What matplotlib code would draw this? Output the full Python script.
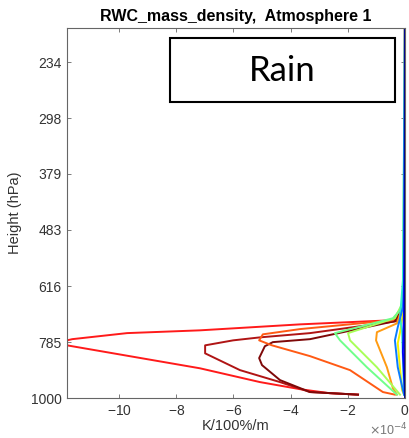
import numpy as np
import matplotlib
matplotlib.use("Agg")
import matplotlib.pyplot as plt
from matplotlib.patches import Rectangle
from matplotlib.ticker import FixedLocator, NullLocator, ScalarFormatter

plt.rcParams['font.family'] = ['Liberation Sans', 'DejaVu Sans']
plt.rcParams['axes.unicode_minus'] = False

## profiles: x in 1e-4 K/100%/m, p in hPa

p_red = [200, 655, 702, 714, 727, 746, 755, 775, 779, 792, 796, 879, 933, 962, 979, 985]
x_red = [0, 0, -0.17, -0.42, -3.67, -7.17, -9.72, -11.64, -11.82, -11.82, -11.82, -7.17, -5.07, -3.67, -2.62, -1.64]

p_darkred = [200, 660, 717, 755, 769, 779, 796, 824, 886, 933, 974, 985]
x_darkred = [0, 0, -0.28, -3.32, -5.07, -6.01, -6.99, -6.99, -5.77, -4.37, -3.32, -1.64]

p_maroon = [200, 660, 717, 775, 785, 799, 841, 867, 925, 974, 985]
x_maroon = [0, 0, -0.35, -3.32, -4.62, -4.90, -5.10, -5.00, -4.37, -3.32, -1.64]

p_orangered = [200, 660, 714, 742, 759, 779, 796, 834, 886, 974, 985]
x_orangered = [0, 0, -0.42, -3.67, -4.97, -5.10, -4.65, -3.32, -1.92, -0.77, -0.35]

p_orange = [200, 655, 724, 752, 779, 875, 958, 985]
x_orange = [0, 0, -0.28, -0.98, -1.01, -0.63, -0.42, -0.28]

p_yellow = [200, 655, 752, 789, 966, 985]
x_yellow = [0, 0, -0.17, -0.25, -0.10, -0.03]

p_ygreen = [200, 660, 708, 755, 779, 875, 985]
x_ygreen = [0, -0.07, -0.35, -1.99, -1.92, -0.98, -0.17]

p_lgreen = [200, 640, 684, 708, 755, 779, 875, 985]
x_lgreen = [0, 0, -0.17, -0.42, -2.45, -2.27, -1.33, -0.28]

p_cyan = [200, 601, 705, 750, 985]
x_cyan = [0, -0.07, -0.17, -0.10, -0.03]

p_lblue = [200, 559, 675, 736, 779, 875, 966, 985]
x_lblue = [0, 0, -0.07, -0.25, -0.35, -0.25, -0.07, -0.03]

p_blue = [200, 680, 820, 985]
x_blue = [0, -0.03, -0.07, 0]

p_navy = [200, 1000]
x_navy = [0, 0]

yticks = [234, 298, 379, 483, 616, 785, 1000]
xticks = [-10, -8, -6, -4, -2, 0]

curves = [
    (x_red, p_red, '#ff1a1a'),
    (x_darkred, p_darkred, '#b01414'),
    (x_maroon, p_maroon, '#7e0808'),
    (x_orangered, p_orangered, '#ff5a14'),
    (x_orange, p_orange, '#ff9b12'),
    (x_yellow, p_yellow, '#f2f200'),
    (x_ygreen, p_ygreen, '#a8ff58'),
    (x_lgreen, p_lgreen, '#70ff8a'),
    (x_cyan, p_cyan, '#30f0c8'),
    (x_lblue, p_lblue, '#0a7dff'),
    (x_blue, p_blue, '#0000ff'),
    (x_navy, p_navy, '#00008f'),
]

fig = plt.figure(figsize=(4.09, 4.38), dpi=100)
ax = fig.add_axes([0.164, 0.091, 0.826, 0.845])

for xs, ps, c in curves:
    ax.plot(np.array(xs) * 1e-4, ps, color=c, lw=1.4)

ax.set_yscale('log')
ax.set_ylim(1000, 202)
ax.set_xlim(-11.82e-4, 0)
ax.yaxis.set_major_locator(FixedLocator(yticks))
ax.yaxis.set_minor_locator(NullLocator())
ax.set_yticklabels([str(t) for t in yticks])
ax.set_xticks(np.array(xticks) * 1e-4)
fmt = ScalarFormatter(useMathText=True)
fmt.set_powerlimits((-4, -4))
ax.xaxis.set_major_formatter(fmt)
ax.xaxis.get_offset_text().set_visible(False)

for s in ax.spines.values():
    s.set_color('#666666')
    s.set_linewidth(0.8)
ax.tick_params(direction='in', top=True, right=True, length=3, width=0.6,
               colors='#666666', labelcolor='#333333', labelsize=10, pad=4)

ax.set_title('RWC_mass_density,  Atmosphere 1', fontsize=11.5, fontweight='bold', pad=5)
ax.set_xlabel('K/100%/m', fontsize=10.5, color='#333333', labelpad=1)
ax.set_ylabel('Height (hPa)', fontsize=10.5, color='#333333', labelpad=6)
fig.text(0.997, 0.0, r'$\times$10$^{-4}$', ha='right', va='bottom',
         fontsize=9, color='#777777')

ax.add_patch(Rectangle((0.305, 0.80), 0.665, 0.173, transform=ax.transAxes,
                       fill=False, ec='black', lw=1.5, clip_on=False))
ax.text(0.637, 0.885, 'Rain', transform=ax.transAxes, ha='center', va='center',
        fontsize=25, family=['Lato', 'DejaVu Sans'])

fig.savefig('out.png', dpi=100)
